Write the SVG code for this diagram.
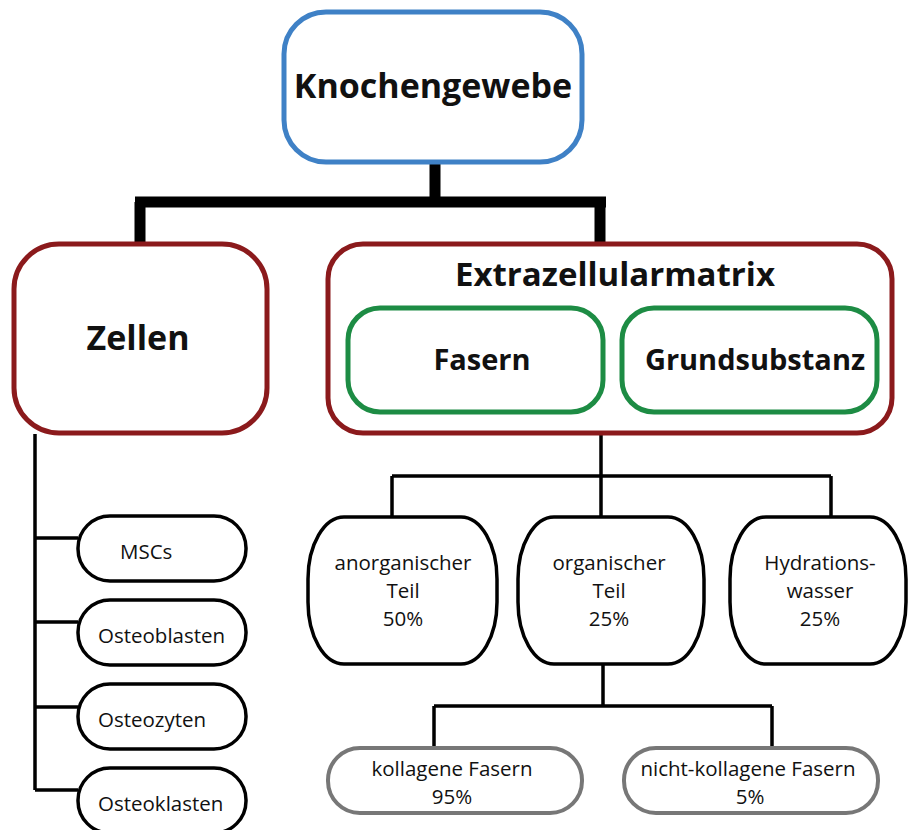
<svg xmlns="http://www.w3.org/2000/svg" width="908" height="830" viewBox="0 0 908 830">
<style>
.t{font-family:"Open Sans","Noto Sans","Liberation Sans",sans-serif;fill:#111;text-anchor:middle}
.b{font-weight:700}
.thick{fill:none;stroke:#000;stroke-width:11}
.thin{fill:none;stroke:#000;stroke-width:3.5}
.blue{fill:#fff;stroke:#3f81c6;stroke-width:5}
.red{fill:#fff;stroke:#8b1a1c;stroke-width:5}
.green{fill:#fff;stroke:#1d8c44;stroke-width:5}
.blk{fill:#fff;stroke:#000;stroke-width:3.5}
.grey{fill:#fff;stroke:#777;stroke-width:4}
.s{font-size:20.5px}
</style>
<rect width="908" height="830" fill="#fff"/>
<g id="connectors">
  <path class="thick" d="M435,163 V202 M135,202 H606 M140,202 V244 M600,202 V244"/>
  <path class="thin" d="M35,434 V790 M35,538 H78 M35,622 H78 M35,707 H78 M35,790 H78"/>
  <path class="thin" d="M601,434 V476 M392,476 H831 M392,476 V518 M601,476 V518 M831,476 V518"/>
  <path class="thin" d="M603,664 V706 M434,706 H772 M434,706 V749 M772,706 V749"/>
</g>
<g id="knochengewebe">
  <rect class="blue" x="284" y="12" width="298" height="150" rx="42"/>
  <text class="t b" x="433" y="98" font-size="34">Knochengewebe</text>
</g>
<g id="zellen">
  <rect class="red" x="14" y="244" width="253" height="189" rx="45"/>
  <text class="t b" x="138" y="350" font-size="34">Zellen</text>
</g>
<g id="ecm">
  <rect class="red" x="328" y="244" width="564" height="189" rx="35"/>
  <text class="t b" x="615" y="286" font-size="33">Extrazellularmatrix</text>
</g>
<g id="fasern">
  <rect class="green" x="348" y="308" width="255" height="104" rx="32"/>
  <text class="t b" x="482" y="370" font-size="29">Fasern</text>
</g>
<g id="grundsubstanz">
  <rect class="green" x="622" y="308" width="255" height="104" rx="32"/>
  <text class="t b" x="755" y="370" font-size="29">Grundsubstanz</text>
</g>
<g id="mscs">
  <rect class="blk" x="78" y="516" width="168" height="65" rx="32"/>
  <text class="t s" x="120" y="559" style="text-anchor:start">MSCs</text>
</g>
<g id="osteoblasten">
  <rect class="blk" x="78" y="600" width="168" height="65" rx="32"/>
  <text class="t s" x="98" y="643" style="text-anchor:start">Osteoblasten</text>
</g>
<g id="osteozyten">
  <rect class="blk" x="78" y="684" width="168" height="65" rx="32"/>
  <text class="t s" x="98" y="727" style="text-anchor:start">Osteozyten</text>
</g>
<g id="osteoklasten">
  <rect class="blk" x="78" y="768" width="168" height="65" rx="32"/>
  <text class="t s" x="98" y="811" style="text-anchor:start">Osteoklasten</text>
</g>
<g id="anorganisch">
  <rect class="blk" x="308" y="517" width="189" height="147" rx="36" ry="62"/>
  <text class="t s" x="403" y="570">anorganischer</text>
  <text class="t s" x="403" y="598">Teil</text>
  <text class="t s" x="403" y="626">50%</text>
</g>
<g id="organisch">
  <rect class="blk" x="518" y="517" width="186" height="147" rx="36" ry="62"/>
  <text class="t s" x="609" y="570">organischer</text>
  <text class="t s" x="609" y="598">Teil</text>
  <text class="t s" x="609" y="626">25%</text>
</g>
<g id="hydration">
  <rect class="blk" x="730" y="517" width="176" height="147" rx="36" ry="62"/>
  <text class="t s" x="820" y="570">Hydrations-</text>
  <text class="t s" x="820" y="598">wasser</text>
  <text class="t s" x="820" y="626">25%</text>
</g>
<g id="kollagen">
  <rect class="grey" x="328" y="748" width="254" height="65" rx="32"/>
  <text class="t s" x="452" y="776">kollagene Fasern</text>
  <text class="t s" x="452" y="804">95%</text>
</g>
<g id="nichtkollagen">
  <rect class="grey" x="624" y="748" width="254" height="65" rx="32"/>
  <text class="t s" x="748" y="776">nicht-kollagene Fasern</text>
  <text class="t s" x="750" y="804">5%</text>
</g>
</svg>
